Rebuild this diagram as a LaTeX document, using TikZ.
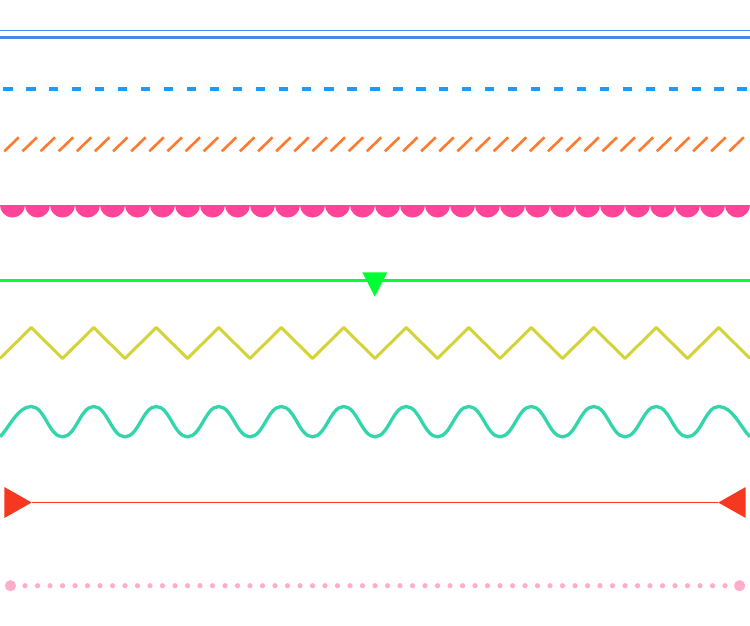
\documentclass[tikz,border=0pt]{standalone}
\definecolor{dblblue}{HTML}{4488EE}
\definecolor{dashblue}{HTML}{1A9CFF}
\definecolor{hatchorange}{HTML}{FF7A2E}
\definecolor{scallopink}{HTML}{FF4499}
\definecolor{brightgreen}{HTML}{00FF33}
\definecolor{zigyellow}{HTML}{D4D43A}
\definecolor{waveteal}{HTML}{33D6AA}
\definecolor{arrowred}{HTML}{F5381F}
\definecolor{dotpink}{HTML}{FFADC9}
\tikzset{
  dashstyle/.style={draw=dashblue, line width=4pt},
  hatchstyle/.style={draw=hatchorange, line width=2.6pt},
  zigstyle/.style={draw=zigyellow, line width=3pt, line join=round},
  wavestyle/.style={draw=waveteal, line width=3.3pt},
}
\begin{document}
\begin{tikzpicture}[x=1pt,y=-1pt]
\useasboundingbox (0,0) rectangle (750,625);
\fill[white] (0,0) rectangle (750,625);
% double line
\draw[dblblue, line width=1.2pt] (0,30.6) -- (750,30.6);
\draw[dblblue, line width=3pt] (0,37.2) -- (750,37.2);
% dashes
\foreach \k in {0,...,32} \draw[dashstyle] ({3.3+22.94*\k},89.3) -- ++(9.3,0);
% hatches
\foreach \k in {0,...,40} \draw[hatchstyle] ({4.3+18.125*\k},151.3) -- ++(14.5,-14);
% scallops
\foreach \k in {0,...,29} \fill[scallopink] ({25*\k},205) arc[start angle=180,end angle=360,radius=12.5pt] -- cycle;
% green line with marker
\draw[brightgreen, line width=2.7pt] (0,280.7) -- (750,280.7);
\fill[brightgreen] (362.3,272.3) -- (387.3,272.3) -- (374.8,296.7) -- cycle;
% zigzag
\draw[zigstyle] (0,358.5) \foreach \k in {0,...,11} { -- ({31.25+62.5*\k},327.5) -- ({62.5+62.5*\k},358.5) };
% wave
\draw[wavestyle] (0,436.8) .. controls (9,427.8) and (18,406.5) .. (31.25,406.5)
  \foreach \k in {0,...,10} { .. controls ({44.75+62.5*\k},406.5) and ({49+62.5*\k},436.8) .. ({62.5+62.5*\k},436.8) .. controls ({76+62.5*\k},436.8) and ({80.25+62.5*\k},406.5) .. ({93.75+62.5*\k},406.5) }
  .. controls (732.25,406.5) and (741,427.8) .. (750,436.8);
% red line with two arrowheads
\draw[arrowred, line width=1.6pt] (31.7,502.3) -- (718.3,502.3);
\fill[arrowred] (4.3,487) -- (31.7,502.5) -- (4.3,518) -- cycle;
\fill[arrowred] (745.7,487) -- (718.3,502.5) -- (745.7,518) -- cycle;
% dotted line
\foreach \k in {0,...,56} \fill[dotpink] ({25+12.5*\k},585.7) circle[radius=2.6pt];
\fill[dotpink] (10.5,585.7) circle[radius=5.6pt];
\fill[dotpink] (739.6,585.7) circle[radius=5.6pt];
\end{tikzpicture}
\end{document}
